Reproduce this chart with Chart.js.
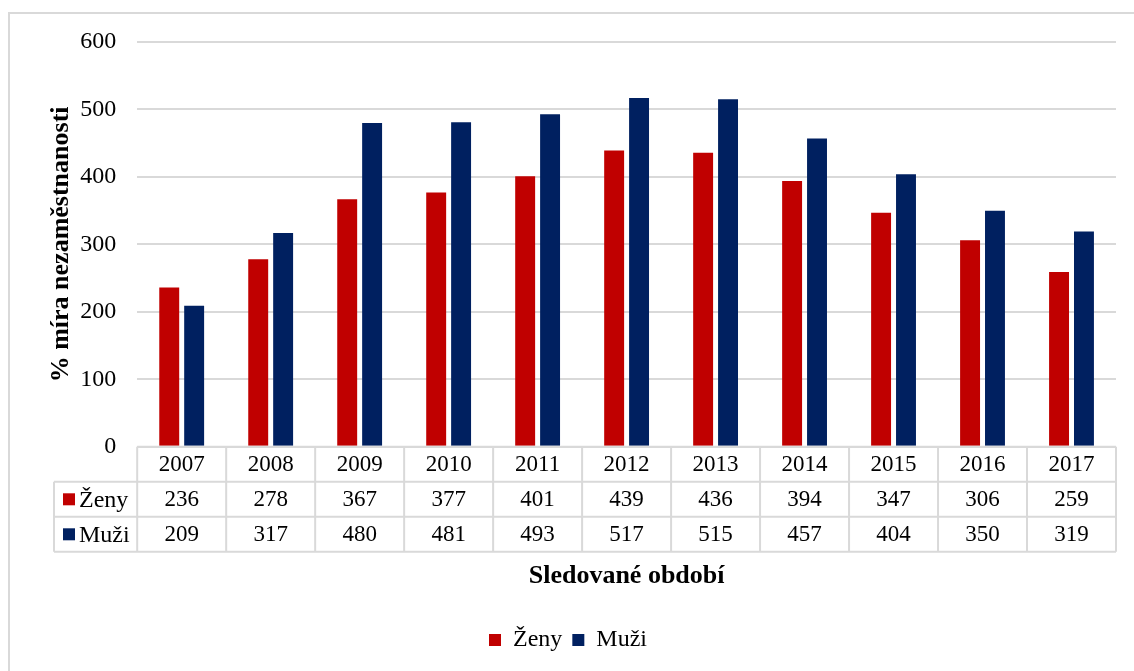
<!DOCTYPE html>
<html>
<head>
<meta charset="utf-8">
<script src="https://cdn.jsdelivr.net/npm/chart.js@4/dist/chart.umd.min.js"></script>
<style>
  html, body { margin: 0; padding: 0; background: #fff; }
  #wrap { width: 1134px; height: 671px; position: relative; }
</style>
</head>
<body>
<div id="wrap"><canvas id="chart"></canvas></div>
<script>
'use strict';

const YEARS = ['2007','2008','2009','2010','2011','2012','2013','2014','2015','2016','2017'];
const ZENY  = [236, 278, 367, 377, 401, 439, 436, 394, 347, 306, 259];
const MUZI  = [209, 317, 480, 481, 493, 517, 515, 457, 404, 350, 319];
const SERIES_NAMES = ['Ženy', 'Muži'];
const COLORS = ['#c00000', '#002060'];

const FONT = 'Liberation Serif';
const GRID = '#d9d9d9';

// data table under the x axis, columns follow the category scale
const dataTable = {
  id: 'dataTable',
  afterDraw(chart) {
    const { ctx, chartArea: area } = chart;
    const x = chart.scales.x;
    const rowH = 35;
    const keyLeft = 54;
    const colW = (x.right - x.left) / YEARS.length;
    const top = area.bottom;
    const rows = [null, ZENY, MUZI];

    ctx.save();
    ctx.strokeStyle = GRID;
    ctx.lineWidth = 2;
    ctx.beginPath();
    ctx.moveTo(x.left, top); ctx.lineTo(x.right, top);
    for (let r = 1; r <= 3; r++) {
      ctx.moveTo(keyLeft, top + r * rowH); ctx.lineTo(x.right, top + r * rowH);
    }
    ctx.moveTo(keyLeft, top + rowH); ctx.lineTo(keyLeft, top + 3 * rowH);
    for (let i = 0; i <= YEARS.length; i++) {
      const px = x.left + i * colW;
      ctx.moveTo(px, top); ctx.lineTo(px, top + 3 * rowH);
    }
    ctx.stroke();

    ctx.fillStyle = '#000';
    ctx.textBaseline = 'middle';
    rows.forEach((vals, r) => {
      const cy = top + r * rowH + rowH / 2 + 1;
      ctx.font = `23px "${FONT}"`;
      ctx.textAlign = 'center';
      YEARS.forEach((yr, i) => {
        ctx.fillText(r === 0 ? yr : String(vals[i]), x.getPixelForValue(i), cy);
      });
      if (r > 0) {
        ctx.fillStyle = COLORS[r - 1];
        ctx.fillRect(keyLeft + 9, cy - 7, 12, 12);
        ctx.fillStyle = '#000';
        ctx.textAlign = 'left';
        ctx.font = `24px "${FONT}"`;
        ctx.fillText(SERIES_NAMES[r - 1], keyLeft + 25, cy);
      }
    });
    ctx.restore();
  }
};

const frame = {
  id: 'frame',
  beforeDraw(chart) {
    const { ctx } = chart;
    ctx.save();
    ctx.strokeStyle = GRID;
    ctx.lineWidth = 2;
    ctx.strokeRect(9, 13, 2000, 2000);
    ctx.restore();
  }
};

new Chart(document.getElementById('chart'), {
  type: 'bar',
  data: {
    labels: YEARS,
    datasets: [
      { label: SERIES_NAMES[0], data: ZENY, backgroundColor: COLORS[0] },
      { label: SERIES_NAMES[1], data: MUZI, backgroundColor: COLORS[1] },
    ],
  },
  options: {
    responsive: true,
    maintainAspectRatio: false,
    animation: false,
    categoryPercentage: 0.56,
    barPercentage: 0.8,
    layout: { padding: { top: 42, right: 18, bottom: 9, left: 20 } },
    plugins: {
      tooltip: { enabled: false },
      legend: {
        position: 'bottom',
        labels: {
          color: '#000',
          font: { family: FONT, size: 24 },
          boxWidth: 12, boxHeight: 12,
          padding: 10,
        },
      },
    },
    scales: {
      x: {
        grid: { display: false, drawTicks: false },
        border: { display: false },
        ticks: { display: false },
        title: {
          display: true,
          text: 'Sledované období',
          color: '#000',
          font: { family: FONT, size: 26, weight: 'bold' },
          padding: { top: 114, bottom: 26 },
        },
      },
      y: {
        min: 0, max: 600,
        ticks: { stepSize: 100, color: '#000', padding: 21, font: { family: FONT, size: 24 } },
        grid: { color: GRID, lineWidth: 2, drawTicks: false },
        border: { display: false },
        title: {
          display: true,
          text: '% míra nezaměstnanosti',
          color: '#000',
          font: { family: FONT, size: 26, weight: 'bold' },
          padding: { top: 26, bottom: -18 },
        },
      },
    },
  },
  plugins: [frame, dataTable],
});
</script>
</body>
</html>
